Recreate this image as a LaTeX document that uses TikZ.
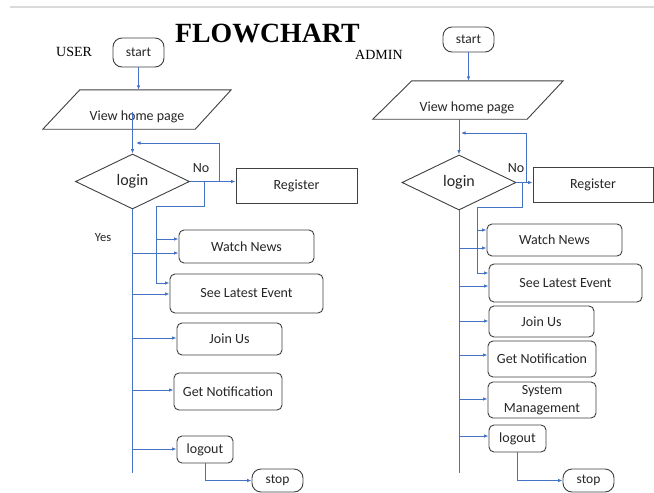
\documentclass[tikz,border=0pt]{standalone}
\usepackage{fontspec}
\setmainfont{Carlito}
\newfontfamily\serifT{Liberation Serif}
\usetikzlibrary{arrows.meta,shapes.geometric}
\definecolor{flowblue}{HTML}{4472C4}
\definecolor{edgegray}{HTML}{404040}
\definecolor{txt}{HTML}{262626}
\definecolor{rulegray}{HTML}{DADADA}
\begin{document}
\begin{tikzpicture}[x=1pt,y=-1pt,
  flow/.style={draw=flowblue,line width=0.9pt},
  arr/.style={flow,-{Latex[length=4.5pt,width=3.5pt]}},
  box/.style={draw=edgegray,line width=0.9pt,rounded corners=5pt,inner sep=0pt,text=txt,align=center,font=\fontsize{14}{17}\selectfont},
  sharpbox/.style={box,rounded corners=0pt},
  term/.style={box,rounded corners=9pt,font=\fontsize{13.5}{16}\selectfont},
  decision/.style={diamond,draw=edgegray,line width=0.9pt,inner sep=0pt,aspect=2,minimum width=114pt,minimum height=55pt,text=txt,font=\fontsize{16}{19}\selectfont},
  frame/.style={inner sep=0pt},
  para/.style={draw=edgegray,line width=0.9pt},
  lbl/.style={text=txt,inner sep=0pt,font=\fontsize{14}{17}\selectfont},
  head/.style={text=black,inner sep=0pt,anchor=base west}
]
\useasboundingbox (0,0) rectangle (654,493);
\fill[white] (0,0) rectangle (654,493);
\draw[rulegray,line width=2pt] (10,7) -- (654,7);

% headings
\node[head,font=\serifT\fontsize{27.8}{30}\selectfont\bfseries] (title) at (175,42) {FLOWCHART};
\node[head,font=\serifT\fontsize{14}{16}\selectfont] (userlbl) at (56,56) {USER};
\node[head,font=\serifT\fontsize{14}{16}\selectfont] (adminlbl) at (355,59) {ADMIN};

% ================= USER =================
\node[term,minimum width=51pt,minimum height=29pt] (startU) at (138.5,52.5) {start};
\node[frame,minimum width=188pt,minimum height=39pt] (vhpU) at (137,109.5) {};
\draw[para] ([xshift=37pt]vhpU.north west) -- (vhpU.north east) -- ([xshift=-36pt]vhpU.south east) -- (vhpU.south west) -- cycle;
\node[lbl] (vhpUt) at (137,117) {View home page};
\node[decision] (loginU) at (132.5,181.5) {login};
\node[sharpbox,minimum width=121pt,minimum height=35pt] (regU) at (296.5,185.5) {Register};
\node[box,minimum width=135pt,minimum height=33pt] (watchU) at (246.5,246.5) {Watch News};
\node[box,minimum width=153pt,minimum height=39pt] (seeU) at (246.5,293.5) {See Latest Event};
\node[box,minimum width=105pt,minimum height=32pt] (joinU) at (229.5,339) {Join Us};
\node[box,minimum width=108pt,minimum height=37pt] (notifU) at (228,391.5) {Get Notification};
\node[box,minimum width=56pt,minimum height=27pt] (logoutU) at (205,449.5) {logout};
\node[term,minimum width=51pt,minimum height=23pt] (stopU) at (277.5,480.5) {stop};
\node[lbl] (noU) at (201,168.5) {No};
\node[lbl,font=\fontsize{12.5}{15}\selectfont] (yesU) at (103,238) {Yes};

\draw[arr] (startU.south) -- (startU.south |- vhpU.north);
\coordinate (uIn) at (132.5,112);
\draw[arr] (uIn) -- (loginU.north);
\coordinate (uLoopB) at (219,182);
\coordinate (uLoopEnd) at (136,143);
\draw[arr] (uLoopB) -- (219,143) -- (uLoopEnd);
\draw[arr] (loginU.east) -- (loginU.east -| regU.west);
\coordinate (uB1) at (204,182);
\draw[flow] (uB1) -- (204,206) -- (156,206) -- (156,283);
\draw[arr] (156,239) -- (watchU.west |- 156,239);
\draw[arr] (156,283) -- (seeU.west |- 156,283);
\draw[flow] (loginU.south) -- (loginU.south |- 0,473);
\foreach \yy/\nn in {253/watchU,294/seeU,338/joinU,390/notifU,449/logoutU}
  \draw[arr] (132.5,\yy) -- (\nn.west |- 132.5,\yy);
\draw[arr] (logoutU.south) |- (stopU.west);

% ================= ADMIN =================
\node[term,minimum width=51pt,minimum height=25pt] (startA) at (468.5,39.5) {start};
\node[frame,minimum width=190pt,minimum height=38pt] (vhpA) at (468,100) {};
\draw[para] ([xshift=39pt]vhpA.north west) -- (vhpA.north east) -- ([xshift=-36pt]vhpA.south east) -- (vhpA.south west) -- cycle;
\node[lbl] (vhpAt) at (467,108) {View home page};
\node[decision] (loginA) at (459,182.5) {login};
\node[sharpbox,minimum width=120pt,minimum height=35pt] (regA) at (593,184.5) {Register};
\node[box,minimum width=135pt,minimum height=32pt] (watchA) at (554.5,240) {Watch News};
\node[box,minimum width=153pt,minimum height=38pt] (seeA) at (565.5,283) {See Latest Event};
\node[box,minimum width=105pt,minimum height=31pt] (joinA) at (541.5,321.5) {Join Us};
\node[box,minimum width=108pt,minimum height=36pt] (notifA) at (542,359) {Get Notification};
\node[box,minimum width=108pt,minimum height=36pt,font=\fontsize{14}{18}\selectfont] (sysA) at (542,400) {System\\Management};
\node[box,minimum width=57pt,minimum height=27pt] (logoutA) at (517.5,438.5) {logout};
\node[term,minimum width=51pt,minimum height=23pt] (stopA) at (588.5,480.5) {stop};
\node[lbl] (noA) at (516,168) {No};

\draw[arr] (startA.south) -- (startA.south |- vhpA.north);
\coordinate (aIn) at (459,119);
\draw[arr] (aIn) -- (loginA.north);
\coordinate (aLoopB) at (526,182.5);
\coordinate (aLoopEnd) at (461,133);
\draw[arr] (aLoopB) -- (526,133) -- (aLoopEnd);
\draw[arr] (loginA.east) -- (loginA.east -| regA.west);
\coordinate (aB1) at (522,182.5);
\draw[flow] (aB1) -- (522,207) -- (477,207) -- (477,273);
\draw[arr] (477,230) -- (watchA.west |- 477,230);
\draw[arr] (477,273) -- (seeA.west |- 477,273);
\draw[flow] (loginA.south) -- (loginA.south |- 0,473);
\foreach \yy/\nn in {248/watchA,286/seeA,321/joinA,355/notifA,399/sysA,436/logoutA}
  \draw[arr] (459,\yy) -- (\nn.west |- 459,\yy);
\draw[arr] (logoutA.south) |- (stopA.west);
\end{tikzpicture}
\end{document}
